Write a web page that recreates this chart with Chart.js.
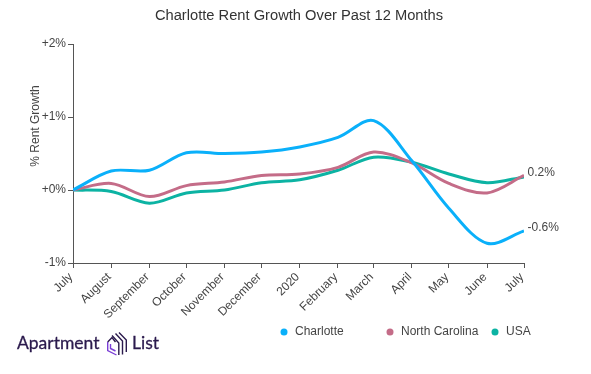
<!DOCTYPE html>
<html>
<head>
<meta charset="utf-8">
<script src="https://cdn.jsdelivr.net/npm/chart.js@4"></script>
<style>
  html, body { margin: 0; padding: 0; background: #fff; overflow: hidden; }
  #wrap { position: relative; width: 591px; height: 374px; }
  #logo { position: absolute; left: 17px; top: 329px; height: 30px; color: #2b1a4d; font: 17.5px Lato, sans-serif; -webkit-text-stroke: 0.3px #2b1a4d; }
  #logo span { position: absolute; top: 1px; line-height: 26px; }
  #logo svg { position: absolute; left: 90px; top: 3px; }
</style>
</head>
<body>
<div id="wrap">
  <canvas id="chart" width="591" height="374"></canvas>
  <div id="logo">
    <span style="left:0">Apartment</span>
    <svg width="20" height="24" viewBox="0 0 20 24" fill="none" stroke-width="1.4">
      <path d="M12 0.5 L19.3 8 V20" stroke="#2b1a4d"/>
      <path d="M8.5 1.5 L15.5 9 V22.5" stroke="#2b1a4d"/>
      <path d="M5 3.5 L11.8 11 V23" stroke="#2b1a4d"/>
      <path d="M0.7 10 L5 5.5 L8.5 10" stroke="#2b1a4d"/>
      <path d="M0.7 10 V18.5 L9.5 23" stroke="#7b3fd6"/>
      <path d="M3.5 12 V16.5 L8.5 19" stroke="#7b3fd6"/>
    </svg>
    <span style="left:115px">List</span>
  </div>
</div>
<script>
// x positions are days since the first July, the axis is spaced like a calendar
const days = [0, 31, 62, 92, 123, 153, 184, 215, 244, 275, 305, 336, 366];
const months = ['July', 'August', 'September', 'October', 'November', 'December', '2020',
  'February', 'March', 'April', 'May', 'June', 'July'];

const charlotte = [0, 0.26, 0.27, 0.51, 0.50, 0.52, 0.59, 0.72, 0.95, 0.40, -0.25, -0.73, -0.56];
const northCarolina = [0, 0.09, -0.09, 0.06, 0.11, 0.20, 0.22, 0.31, 0.52, 0.37, 0.09, -0.04, 0.20];
const usa = [0, -0.02, -0.18, -0.04, 0.00, 0.10, 0.14, 0.27, 0.45, 0.38, 0.22, 0.10, 0.18];

const textColor = '#444';
const axisColor = '#555';
const fontFamily = '"Liberation Sans", Arial, sans-serif';

function makeSeries(label, values, color) {
  return {
    label: label,
    data: values.map((v, i) => ({ x: days[i], y: v })),
    borderColor: color,
    backgroundColor: color,
    borderWidth: 3,
    pointRadius: 0,
    tension: 0.33,
    fill: false
  };
}

// title, axis title, legend and the end of line labels
const extras = {
  id: 'extras',
  afterDraw(chart) {
    const ctx = chart.ctx;
    ctx.save();

    ctx.textBaseline = 'middle';
    ctx.textAlign = 'center';
    ctx.fillStyle = '#333';
    ctx.font = '14.7px ' + fontFamily;
    ctx.fillText('Charlotte Rent Growth Over Past 12 Months', 299, 16);

    ctx.fillStyle = textColor;
    ctx.font = '12px ' + fontFamily;
    ctx.save();
    ctx.translate(36, 126);
    ctx.rotate(-Math.PI / 2);
    ctx.fillText('% Rent Growth', 0, 0);
    ctx.restore();

    ctx.textAlign = 'left';
    const legendX = [284, 390, 495];
    chart.data.datasets.forEach((ds, i) => {
      ctx.fillStyle = ds.borderColor;
      ctx.beginPath();
      ctx.arc(legendX[i], 332, 3.5, 0, Math.PI * 2);
      ctx.fill();
      ctx.fillStyle = textColor;
      ctx.fillText(ds.label, legendX[i] + 11, 331.5);
    });

    // only Charlotte and North Carolina carry a label, USA would sit on top of it
    [0, 1].forEach(i => {
      const pts = chart.getDatasetMeta(i).data;
      const last = pts[pts.length - 1];
      const val = chart.data.datasets[i].data[pts.length - 1].y;
      ctx.fillStyle = textColor;
      ctx.fillText(val.toFixed(1) + '%', last.x + 3.5, last.y - 3);
    });
    ctx.restore();
  }
};

new Chart(document.getElementById('chart'), {
  type: 'line',
  data: {
    datasets: [
      makeSeries('Charlotte', charlotte, '#0AB0FA'),
      makeSeries('North Carolina', northCarolina, '#C46C88'),
      makeSeries('USA', usa, '#0CB3A3')
    ]
  },
  options: {
    responsive: false,
    animation: false,
    layout: { padding: { left: 0, right: 67, top: 44, bottom: 0 } },
    plugins: {
      legend: { display: false },
      tooltip: { enabled: false },
      title: { display: false }
    },
    scales: {
      x: {
        type: 'linear',
        min: 0,
        max: 366,
        afterBuildTicks(scale) {
          scale.ticks = days.map(d => ({ value: d }));
        },
        afterFit(scale) { scale.height = 111; },
        grid: { drawOnChartArea: false, tickLength: 5, color: axisColor },
        border: { color: axisColor },
        ticks: {
          autoSkip: false,
          minRotation: 45,
          maxRotation: 45,
          padding: 2,
          labelOffset: -2,
          color: textColor,
          font: { family: fontFamily, size: 12 },
          callback: (value, index) => months[index]
        }
      },
      y: {
        min: -1,
        max: 2,
        afterFit(scale) { scale.width = 73; },
        grid: { drawOnChartArea: false, tickLength: 5, color: axisColor },
        border: { color: axisColor },
        ticks: {
          stepSize: 1,
          padding: 2,
          color: textColor,
          font: { family: fontFamily, size: 12 },
          callback: v => (v < 0 ? '-' : '+') + Math.abs(v) + '%'
        }
      }
    }
  },
  plugins: [extras]
});
</script>
</body>
</html>
